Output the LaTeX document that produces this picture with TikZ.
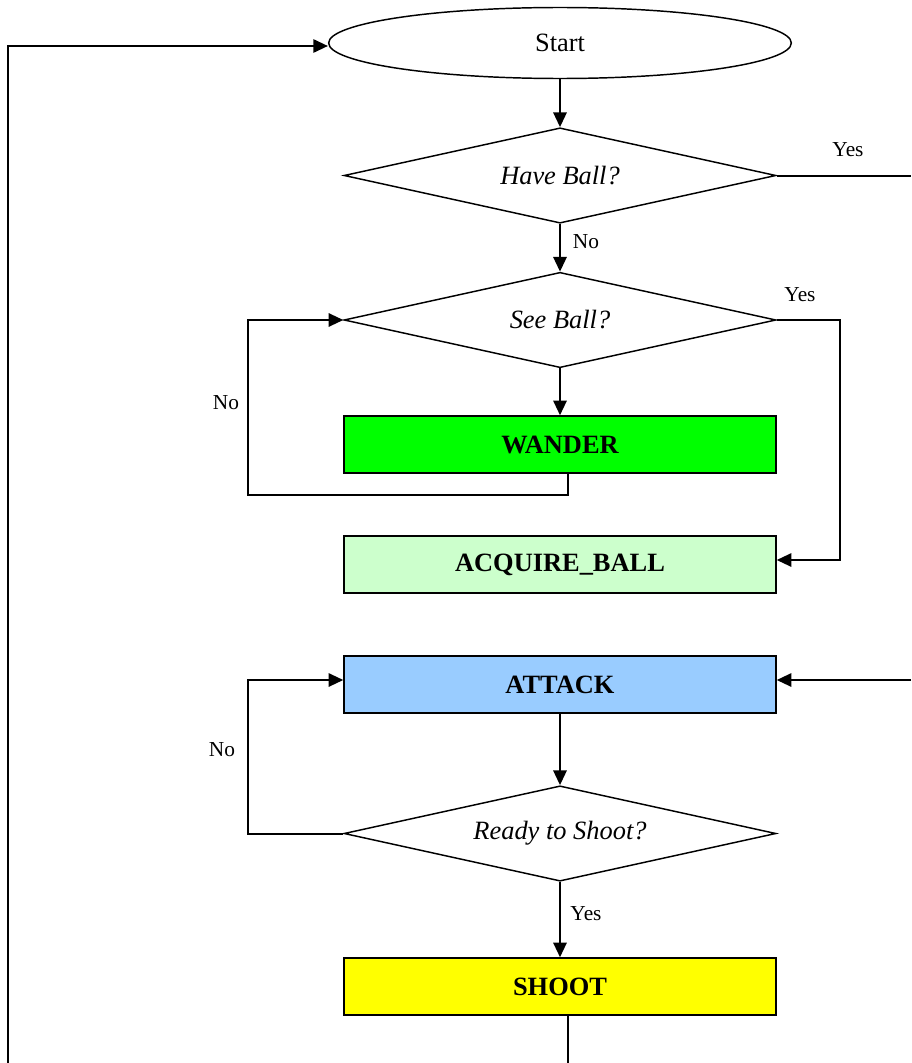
\documentclass[tikz,border=0pt]{standalone}
\usepackage{fontspec}
\setmainfont{Liberation Serif}
\usetikzlibrary{shapes.geometric,arrows.meta}
\begin{document}
\begin{tikzpicture}[x=0.75pt,y=-0.75pt,
  every node/.style={font=\fontsize{19.8}{23}\selectfont},
  conn/.style={line width=1.5pt,-{Triangle[length=11pt,width=10pt]}},
  plain/.style={line width=1.5pt},
  decision/.style={diamond,draw,line width=1.1pt,inner sep=0pt,aspect=4.5,
    minimum width=324pt,minimum height=71.5pt,font=\fontsize{19.8}{23}\selectfont\itshape},
  procbox/.style={rectangle,draw,line width=1.1pt,minimum width=324pt,minimum height=42.75pt,
    inner sep=0pt,font=\fontsize{19.8}{23}\selectfont\bfseries},
  lbl/.style={font=\fontsize{16}{19}\selectfont}]
\useasboundingbox (0,0) rectangle (911,1063);
\definecolor{wandergreen}{HTML}{00FF00}
\definecolor{acqgreen}{HTML}{CCFFCC}
\definecolor{attblue}{HTML}{99CCFF}
\definecolor{shootyellow}{HTML}{FFFF00}

\node[ellipse,draw,line width=1.1pt,minimum width=347pt,minimum height=53.25pt,inner sep=0pt] (start) at (560,43) {Start};
\node[decision] (have) at (560,175.5) {Have Ball?};
\node[decision] (see) at (560,320) {See Ball?};
\node[procbox,fill=wandergreen] (wander) at (560,444.5) {WANDER};
\node[procbox,fill=acqgreen] (acq) at (560,564.5) {ACQUIRE\_BALL};
\node[procbox,fill=attblue] (attack) at (560,684.5) {ATTACK};
\node[decision] (ready) at (560,833.5) {Ready to Shoot?};
\node[procbox,fill=shootyellow] (shoot) at (560,986.5) {SHOOT};

\coordinate (yesout) at (911,175.5);
\coordinate (yesin) at (911,680);
\coordinate (shootout) at (568,1064);
\coordinate (leftbot) at (8,1064);

% main vertical flow
\draw[conn] (start.south) -- (have.north);
\draw[conn] (have.south) -- (see.north);
\draw[conn] (see.south) -- (wander.north);
\draw[conn] (attack.south) -- (ready.north);
\draw[conn] (ready.south) -- (shoot.north);

% Have Ball? yes -> off page
\draw[plain] (have.east) -- (yesout);
% into ATTACK from right
\draw[conn] (yesin) -- (attack.east |- yesin);

% See Ball? yes -> ACQUIRE_BALL
\draw[conn] (see.east) -- (840,320) -- (840,560) -- (acq.east |- 0,560);

% WANDER loop back to See Ball?
\draw[conn] (wander.south -| 568,0) -- (568,495) -- (248,495) -- (248,320) -- (see.west);

% Ready to Shoot? no -> ATTACK
\draw[conn] (ready.west) -- (248,833.5) -- (248,680) -- (attack.west |- 0,680);

% SHOOT down off page
\draw[plain] (shoot.south -| 568,0) -- (shootout);

% left return to Start
\draw[conn] (leftbot) -- (8,46) -- (start.west |- 0,46);

% labels
\node[lbl] (l1) at (848,150) {Yes};
\node[lbl] (l2) at (586,242) {No};
\node[lbl] (l3) at (800,295) {Yes};
\node[lbl] (l4) at (226,403) {No};
\node[lbl] (l5) at (222,750) {No};
\node[lbl] (l6) at (586,914) {Yes};
\end{tikzpicture}
\end{document}
